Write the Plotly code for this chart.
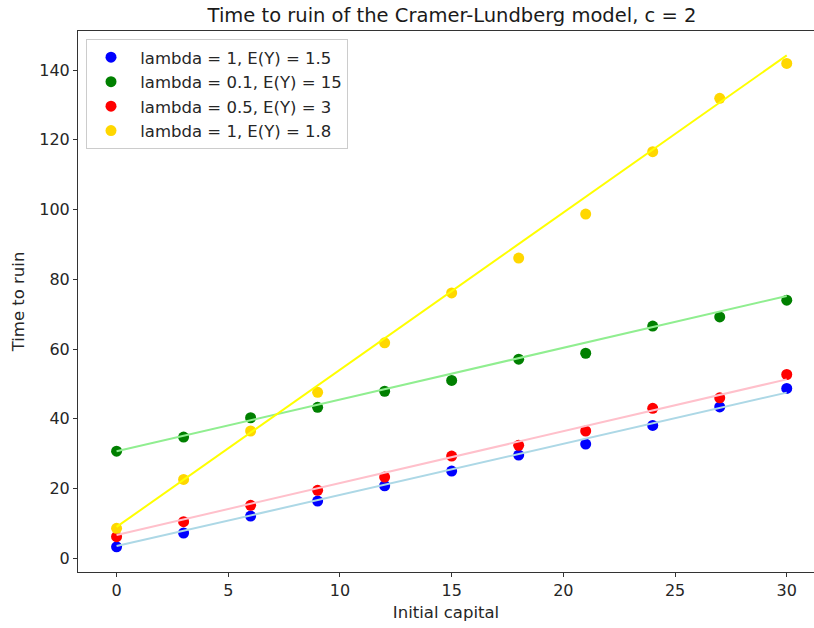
import plotly.graph_objects as go
import numpy as np

capital = [0, 3, 6, 9, 12, 15, 18, 21, 24, 27, 30]

series_names = [
    "lambda = 1, E(Y) = 1.5",
    "lambda = 0.1, E(Y) = 15",
    "lambda = 0.5, E(Y) = 3",
    "lambda = 1, E(Y) = 1.8",
]
blue_vals = [3.3, 7.25, 12.1, 16.4, 20.8, 25.0, 29.6, 32.75, 38.1, 43.4, 48.7]
green_vals = [30.7, 34.75, 40.3, 43.3, 47.9, 51.0, 57.1, 58.8, 66.6, 69.2, 74.0]
red_vals = [6.2, 10.5, 15.2, 19.5, 23.3, 29.3, 32.4, 36.5, 43.0, 46.0, 52.7]
gold_vals = [8.6, 22.6, 36.5, 47.6, 61.8, 76.1, 86.1, 98.7, 116.6, 131.9, 141.9]

# fitted line parameters (intercept, slope)
fit_intercepts = [3.5, 30.7, 6.7, 9.0]
fit_slopes = [1.467, 1.483, 1.487, 4.507]

x_ticks = [0, 5, 10, 15, 20, 25, 30]
y_ticks = [0, 20, 40, 60, 80, 100, 120, 140]

marker_colors = ["blue", "green", "red", "gold"]
line_colors = ["lightblue", "lightgreen", "pink", "yellow"]
all_vals = [blue_vals, green_vals, red_vals, gold_vals]

FONT = "DejaVu Sans"
fig = go.Figure()

for i, (name, vals) in enumerate(zip(series_names, all_vals)):
    fig.add_trace(go.Scatter(
        x=capital, y=vals, mode="markers", name="\u00a0" + name,
        legendgroup=f"g{i}",
        marker=dict(color=marker_colors[i], size=11, line=dict(width=0)),
    ))

x_arr = np.array(capital, dtype=float)
for i in range(4):
    fig.add_trace(go.Scatter(
        x=capital, y=(fit_intercepts[i] + fit_slopes[i] * x_arr).tolist(),
        mode="lines", showlegend=False, hoverinfo="skip",
        line=dict(color=line_colors[i], width=2),
    ))

axis_common = dict(
    showgrid=False, zeroline=False, showline=True, linecolor="#333333", linewidth=1,
    ticks="outside", ticklen=4, tickwidth=1, tickcolor="#333333",
    tickfont=dict(family=FONT, size=16, color="#262626"),
    automargin=False,
)

fig.update_layout(
    width=814, height=628,
    margin=dict(l=78, r=0, t=31, b=56),
    paper_bgcolor="white", plot_bgcolor="white",
    font=dict(family=FONT, size=16, color="#262626"),
    title=dict(text="Time to ruin of the Cramer-Lundberg model, c = 2",
               x=452 / 814, xanchor="center", y=1 - 15 / 628, yanchor="middle",
               pad=dict(t=0, b=0),
               font=dict(family=FONT, size=19.5, color="#1a1a1a")),
    xaxis=dict(range=[-1.727, 31.22], tickvals=x_ticks,
               mirror=True,
               title=dict(text="Initial capital", standoff=7,
                          font=dict(family=FONT, size=16.5, color="#262626")),
               **axis_common),
    yaxis=dict(range=[-3.93, 151.2], tickvals=y_ticks,
               title=dict(text="Time to ruin", standoff=10,
                          font=dict(family=FONT, size=16.5, color="#262626")),
               **axis_common),
    legend=dict(x=(86 - 78) / 736, y=(572 - 39) / 541, xanchor="left", yanchor="top",
                bgcolor="rgba(255,255,255,0.8)", bordercolor="#cccccc", borderwidth=1,
                font=dict(family=FONT, size=16.5, color="#262626"),
                itemwidth=38, tracegroupgap=0),
    showlegend=True,
)

# remove the browser's default 8px page margin so the figure fills the window
fig.write_html("out.html", config={"displayModeBar": False},
               post_script="document.body.style.margin='0';")
